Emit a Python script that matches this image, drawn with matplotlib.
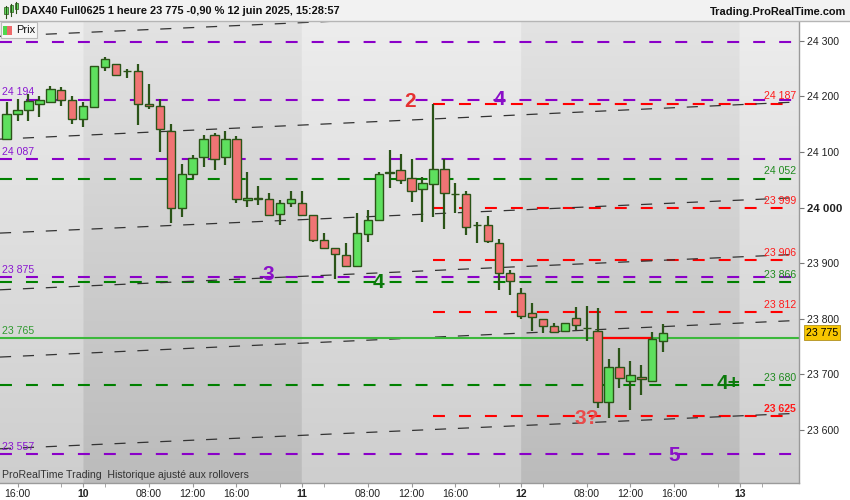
import numpy as np
import matplotlib.pyplot as plt
from matplotlib.patches import Rectangle
from matplotlib.transforms import blended_transform_factory

plt.rcParams['font.family'] = ['Liberation Sans', 'DejaVu Sans']
plt.rcParams['lines.scale_dashes'] = False

# hourly candles, slot 0 = 10 juin 02:00 (20 slots per session)
slots = list(range(-7, 54))
opens = [24123, 24169, 24176, 24187, 24190, 24211, 24193, 24160, 24181, 24252,
         24258, 24246, 24246, 24187, 24183, 24138, 24000, 24060, 24090, 24130,
         24090, 24123, 24013, 24018, 24015, 23989, 24008, 24009, 23986, 23941,
         23928, 23914, 23895, 23953, 23977, 24063, 24067, 24053, 24033, 24043,
         24070, 24025, 24024, 23969, 23968, 23937, 23882, 23846, 23810, 23800,
         23787, 23778, 23801, 23784, 23778, 23651, 23714, 23688, 23696, 23688,
         23760]
highs = [24190, 24195, 24204, 24200, 24218, 24216, 24200, 24190, 24255, 24271,
         24259, 24249, 24258, 24223, 24195, 24150, 24078, 24094, 24130, 24134,
         24138, 24129, 24064, 24039, 24026, 24013, 24030, 24030, 23986, 23955,
         23928, 23936, 23990, 23996, 24064, 24104, 24097, 24087, 24054, 24187,
         24088, 24044, 24030, 23974, 23985, 23943, 23888, 23855, 23828, 23800,
         23792, 23792, 23821, 23823, 23819, 23727, 23747, 23724, 23716, 23776,
         23790]
lows = [24122, 24156, 24156, 24162, 24190, 24183, 24151, 24145, 24180, 24246,
        24237, 24233, 24149, 24178, 24099, 23972, 23983, 24051, 24073, 24067,
        24076, 24009, 24001, 24005, 23986, 23968, 24001, 23986, 23938, 23928,
        23872, 23893, 23893, 23938, 23977, 24036, 24043, 24010, 23974, 23983,
        23962, 23990, 23950, 23937, 23937, 23852, 23843, 23799, 23777, 23774,
        23774, 23778, 23780, 23760, 23640, 23622, 23675, 23635, 23662, 23688,
        23741]
closes = [24169, 24175, 24191, 24193, 24213, 24194, 24160, 24183, 24254, 24267,
          24238, 24245, 24186, 24182, 24141, 24000, 24060, 24089, 24123, 24088,
          24123, 24016, 24018, 24015, 23986, 24008, 24015, 23986, 23941, 23928,
          23916, 23895, 23954, 23977, 24060, 24062, 24049, 24030, 24044, 24070,
          24027, 24024, 23965, 23968, 23939, 23882, 23867, 23805, 23803, 23786,
          23776, 23792, 23788, 23783, 23651, 23714, 23693, 23698, 23691, 23764,
          23775]

# support / resistance levels
purple_levels = [24298, 24194, 24087, 23875, 23557]
purple_labels = ['', '24 194', '24 087', '23 875', '23 557']
green_levels = [24052, 23866, 23680]
red_levels = [24187, 23999, 23906, 23812, 23625]
red_start = 32
last_level = 23765
last_price = 23775

# rising channel lines: price at left edge and at right edge
trend_left = [24308, 24123, 23954, 23852, 23731, 23566]
trend_right = [24373, 24190, 24018, 23916, 23797, 23630]

# wave counts
wave_text = ['2', '4', '3', '4', '4+', '3?', '5']
wave_slot = [29.9, 38.0, 16.9, 27.0, 59.0, 46.0, 54.0]
wave_price = [24190, 24195, 23879, 23865, 23683, 23621, 23554]
wave_color = ['#e53030', '#8a10c8', '#8a10c8', '#0b7a0b', '#0b7a0b', '#ea4a4a', '#8a10c8']

tick_slots = [-6, 0, 6, 10, 14, 20, 26, 30, 34, 40, 46, 50, 54, 60]
tick_labels = ['16:00', '10', '08:00', '12:00', '16:00', '11', '08:00', '12:00',
               '16:00', '12', '08:00', '12:00', '16:00', '13']
day_labels = ['10', '11', '12', '13']

XMIN, XMAX = -7.6, 65.4
YMIN, YMAX = 23505, 24335.5

fig = plt.figure(figsize=(8.5, 5), dpi=100)
fig.patch.set_facecolor('white')
ax = fig.add_axes([0, 17.3 / 500, 799 / 850, 461.7 / 500])

# background: vertical gradient, alternate sessions darker
xs = np.linspace(XMIN, XMAX, 900)
t = np.linspace(0, 1, 300)[:, None]
dark = (np.floor(xs / 20) % 2 == 0)[None, :]
light_col = 237 - 31 * t
dark_col = 227 - 40 * t
g = np.where(dark, dark_col, light_col) / 255.0
img = np.dstack([g, g, g])
ax.imshow(img, extent=(XMIN, XMAX, YMIN, YMAX), aspect='auto', zorder=0,
          interpolation='bilinear')

lvl_dash = (0, (8.6, 10.1))
for lv in purple_levels:
    ax.plot([XMIN, XMAX], [lv, lv], color='#8a00c8', lw=1.5, ls=lvl_dash, zorder=2)
for lv in green_levels:
    ax.plot([XMIN, XMAX], [lv, lv], color='#008000', lw=1.5, ls=lvl_dash, zorder=2)
for lv in red_levels:
    ax.plot([red_start, XMAX - 0.3], [lv, lv], color='#ff0000', lw=1.5, ls=lvl_dash, zorder=2)

for a, b in zip(trend_left, trend_right):
    ax.plot([XMIN, XMAX], [a, b], color='#333333', lw=0.9, ls=(0, (8, 8.5)), zorder=2)

ax.axhline(last_level, color='#3cb83c', lw=1.5, zorder=2)
ax.plot([47, 51.9], [last_level, last_level], color='#ff0000', lw=1.6, zorder=3)

# candles
edge = '#2b5418'
for s, o, h, l, c in zip(slots, opens, highs, lows, closes):
    ax.vlines(s, l, h, color=edge, lw=1.6, zorder=4)
    col = '#5ee05e' if c >= o else '#f07474'
    body = max(abs(c - o), 0.6)
    ax.add_patch(Rectangle((s - 0.38, min(o, c)), 0.76, body, facecolor=col,
                           edgecolor=edge, lw=1.0, zorder=5))

# level labels
left_tr = blended_transform_factory(ax.transAxes, ax.transData)
off = 7.5 / 0.5561 * 0.6
for lv, lab in zip(purple_levels, purple_labels):
    if lab:
        ax.text(0.003, lv + 13, lab, transform=left_tr, color='#8a18d0',
                fontsize=7.6, ha='left', va='center', zorder=6)
ax.text(0.003, last_level + 13, '23 765', transform=left_tr, color='#2f9a2f',
        fontsize=7.6, ha='left', va='center', zorder=6)
for lv in red_levels:
    ax.text(0.9965, lv + 13, f'{lv:,}'.replace(',', ' '), transform=left_tr,
            color='#ff1a1a', fontsize=7.6, ha='right', va='center', zorder=6,
            fontweight='bold' if lv == 23625 else 'normal')
for lv in green_levels:
    ax.text(0.9965, lv + 13, f'{lv:,}'.replace(',', ' '), transform=left_tr,
            color='#1e8a1e', fontsize=7.6, ha='right', va='center', zorder=6)

for txt, s, p, c in zip(wave_text, wave_slot, wave_price, wave_color):
    ax.text(s, p, txt, color=c, fontsize=15, fontweight='bold', ha='center',
            va='center', zorder=7)

ax.text(0.003, 0.017, 'ProRealTime Trading  Historique ajusté aux rollovers',
        transform=ax.transAxes, fontsize=7.6, color='#333333', ha='left',
        va='center', zorder=6)

ax.set_xlim(XMIN, XMAX)
ax.set_ylim(YMIN, YMAX)

# axes styling
for sp in ['top', 'left']:
    ax.spines[sp].set_visible(False)
for sp in ['right', 'bottom']:
    ax.spines[sp].set_color('#9a9a9a')
    ax.spines[sp].set_linewidth(1)

yt = [23600, 23700, 23800, 23900, 24000, 24100, 24200, 24300]
ax.yaxis.tick_right()
ax.set_yticks(yt)
ax.set_yticklabels([f'{v:,}'.replace(',', ' ') for v in yt])
ax.tick_params(axis='y', length=3.5, color='#777777', labelsize=7.6, pad=2,
               labelcolor='#222222')
for lab in ax.get_yticklabels():
    if lab.get_text() == '24 000':
        lab.set_fontweight('bold')
        lab.set_fontsize(8.2)

minor = []
for d in range(-1, 4):
    minor += [20 * d + k for k in (0, 2, 6, 10, 14, 18)]
minor = [m for m in minor if XMIN < m < XMAX]
ax.set_xticks(tick_slots)
ax.set_xticklabels(tick_labels)
ax.set_xticks(minor, minor=True)
ax.tick_params(axis='x', which='both', length=3, color='#999999', labelsize=7.6,
               pad=1.5, labelcolor='#222222')
for lab in ax.get_xticklabels():
    if lab.get_text() in day_labels:
        lab.set_fontweight('bold')

ax.text(1.0088, last_price, '23 775', transform=left_tr, fontsize=7.6,
        ha='left', va='center', color='black', zorder=8, clip_on=False,
        bbox=dict(boxstyle='square,pad=0.2', facecolor='#f7c600',
                  edgecolor='#b09020', lw=0.6))

# header band
fig.patches.append(Rectangle((0, 1 - 21 / 500), 1, 21 / 500, transform=fig.transFigure,
                             facecolor='#f2f2f2', edgecolor='none', zorder=0))
fig.add_artist(plt.Line2D([0, 1], [1 - 21 / 500, 1 - 21 / 500], transform=fig.transFigure,
                          color='#b5b5b5', lw=1))
fig.text(22.5 / 850, 1 - 11 / 500, 'DAX40 Full0625 1 heure 23 775 -0,90 % 12 juin 2025, 15:28:57',
         fontsize=7.9, fontweight='bold', va='center', ha='left', color='#111111')
fig.text(846 / 850, 1 - 12 / 500, 'Trading.ProRealTime.com', fontsize=7.9,
         fontweight='bold', va='center', ha='right', color='#111111')

# small header icon
for i, (yb, yt2) in enumerate([(7.5, 13.5), (5.5, 11.5), (3.5, 8.5)]):
    cx = 6 + i * 5.2
    fig.add_artist(plt.Line2D([cx / 850, cx / 850], [1 - (yt2 + 4) / 500, 1 - (yb - 1.5) / 500],
                              transform=fig.transFigure, color='#2b5418', lw=0.8))
    fig.patches.append(Rectangle(((cx - 1.6) / 850, 1 - yt2 / 500), 3.2 / 850, (yt2 - yb) / 500,
                                 transform=fig.transFigure, facecolor='#5ee05e',
                                 edgecolor='#2b5418', lw=0.5))

# "Prix" legend box
fig.patches.append(Rectangle((0.5 / 850, 1 - 38.3 / 500), 36.5 / 850, 16.5 / 500,
                             transform=fig.transFigure, facecolor='#f7f7f7',
                             edgecolor='#bbbbbb', lw=0.8, zorder=10))
fig.patches.append(Rectangle((2.7 / 850, 1 - 35 / 500), 4.6 / 850, 9 / 500,
                             transform=fig.transFigure, facecolor='#4ed84e',
                             edgecolor='none', zorder=11))
fig.patches.append(Rectangle((7.3 / 850, 1 - 35 / 500), 4.6 / 850, 9 / 500,
                             transform=fig.transFigure, facecolor='#ee6a6a',
                             edgecolor='none', zorder=11))
fig.text(16 / 850, 1 - 30.3 / 500, 'Prix', fontsize=7.9, va='center', ha='left',
         color='#111111', zorder=12)

fig.savefig('out.png', dpi=100)
